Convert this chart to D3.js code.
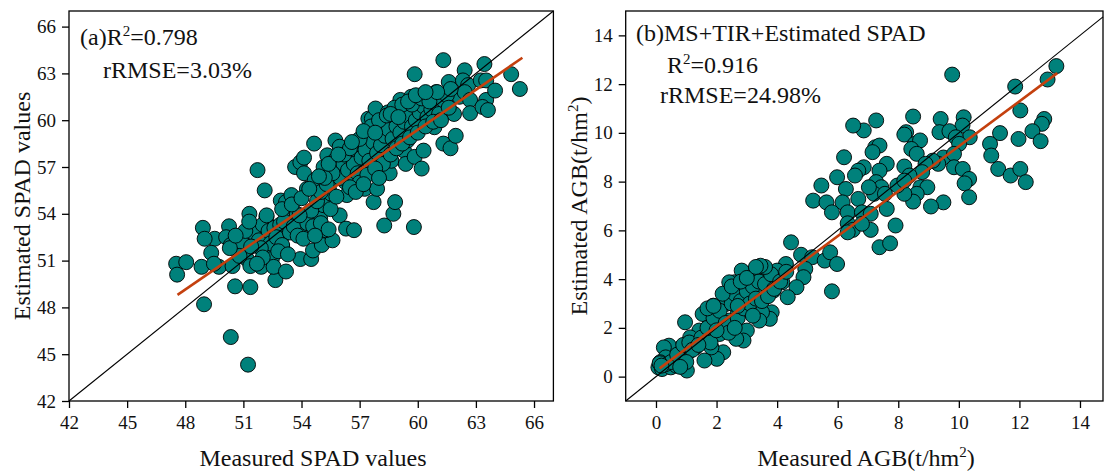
<!DOCTYPE html>
<html>
<head>
<meta charset="utf-8">
<script src="https://d3js.org/d3.v7.min.js"></script>
<style>
	body { margin: 0; background: #fff; }
	svg text { font-family: "Liberation Serif", "Times New Roman", serif; fill: #111; }
</style>
</head>
<body>
<svg id="chart" width="1105" height="474"></svg>
<script>
// (a) measured vs estimated SPAD
var spadPoints = [
	[51.24,44.33],[50.35,46.1],[48.97,48.2],[47.53,50.8],[47.58,50.1],[48.05,50.9],[48.84,50.6],[48.91,53.1],
	[49.52,52.4],[49.0,52.4],[49.34,51.5],[49.74,50.6],[49.48,50.8],[50.26,53.2],[50.11,52.5],[50.35,52.0],
	[50.44,50.65],[50.57,49.35],[50.72,51.65],[51.36,49.3],[51.31,54.0],[51.15,52.5],[51.18,51.1],[51.36,50.65],
	[51.92,50.6],[51.73,56.8],[52.1,55.5],[52.19,53.8],[52.29,52.7],[52.19,51.45],[52.47,51.1],[52.65,49.75],
	[52.56,50.6],[53.0,51.9],[53.2,50.3],[52.93,54.85],[53.2,54.75],[53.48,55.2],[53.11,52.7],[53.48,53.6],
	[53.76,54.0],[54.04,53.15],[53.94,51.1],[54.5,51.1],[53.67,57.0],[53.94,57.3],[54.13,57.6],[54.13,56.6],
	[54.28,55.6],[54.65,58.5],[54.68,56.15],[54.68,54.0],[54.96,53.7],[55.05,52.7],[54.59,51.65],[55.05,52.0],
	[55.14,54.55],[55.14,57.0],[55.33,57.75],[55.42,55.8],[55.51,55.3],[55.6,52.3],[55.24,52.95],[55.75,58.7],
	[55.7,57.4],[55.88,56.6],[55.97,53.9],[56.16,57.2],[56.25,56.05],[56.3,53.05],[56.34,55.2],[55.97,58.3],
	[56.62,58.5],[56.71,52.95],[56.8,56.35],[56.89,57.6],[57.26,55.6],[57.26,59.25],[57.45,60.1],[57.63,60.1],
	[57.82,60.75],[57.72,54.75],[57.9,55.6],[57.45,57.0],[57.82,56.8],[58.0,58.7],[58.27,53.25],[58.55,56.6],
	[58.74,54.0],[58.83,54.75],[58.64,57.4],[58.46,60.5],[58.92,60.1],[59.1,61.3],[59.29,58.05],[59.38,57.2],
	[59.29,60.65],[59.47,58.7],[59.66,61.5],[59.8,53.15],[59.84,62.95],[59.84,57.65],[59.93,60.65],[60.12,59.55],
	[60.2,56.9],[60.3,58.05],[60.49,61.05],[60.76,60.0],[60.86,59.55],[60.95,61.8],[61.13,61.05],[61.32,63.85],
	[61.32,58.5],[61.6,62.45],[61.69,58.2],[61.78,61.7],[61.87,60.4],[61.96,59.0],[62.15,61.5],[62.42,63.2],
	[62.33,62.55],[62.6,62.25],[62.42,61.8],[62.7,61.3],[62.7,60.45],[63.25,62.55],[63.44,63.6],[63.53,61.3],
	[63.34,60.85],[63.62,60.65],[63.53,62.55],[63.99,61.9],[64.82,62.95],[65.27,62.0],
	[50.9,52.2],[51.5,52.8],[51.8,52.3],[52.0,53.3],[52.3,52.9],[52.6,53.1],[52.9,53.3],[52.4,52.1],
	[51.9,51.8],[51.4,51.9],[50.8,51.3],[51.1,52.9],[52.7,52.5],[53.1,53.5],[53.4,52.8],[53.6,53.2],
	[53.8,52.6],[54.1,52.4],[54.3,53.4],[54.5,54.2],[54.8,54.8],[55.0,55.4],[55.3,55.9],[53.9,53.9],
	[54.6,53.2],[55.5,54.3],[55.8,55.1],[56.0,56.3],[56.4,56.8],[56.7,57.2],[56.9,56.6],[57.1,57.6],
	[57.3,58.1],[57.5,57.4],[57.7,58.6],[57.9,57.9],[58.1,58.4],[58.3,59.0],[58.5,59.4],[58.7,58.8],
	[58.9,59.6],[59.1,59.2],[59.3,59.9],[59.5,60.3],[59.7,59.6],[59.9,60.0],[60.1,60.5],[60.3,60.9],
	[60.5,60.2],[60.7,60.7],[60.9,61.1],[61.1,60.4],[61.3,61.3],[61.5,61.6],[61.7,62.0],[58.2,57.2],
	[58.6,57.8],[58.9,58.2],[59.2,58.5],[59.6,58.9],[60.0,59.2],[60.4,59.6],[60.8,59.9],[61.2,60.0],
	[61.6,60.8],[57.0,56.0],[57.4,56.5],[57.8,56.9],[58.0,56.3],[56.5,55.7],[56.8,55.4],[57.2,55.9],
	[55.6,56.6],[55.2,56.3],[56.2,57.8],[56.5,58.2],[57.0,58.8],[57.6,59.6],[58.0,60.0],[58.4,60.3],
	[58.8,60.8],[59.2,61.0],[59.7,61.0],[60.2,61.4],[60.6,61.2],[61.0,61.8],[55.0,53.4],[55.4,53.0],
	[54.7,52.6],[53.0,52.0],[52.8,51.6],[53.3,51.4],[52.0,51.2],[51.7,50.8],[50.3,51.8],[50.6,52.6],
	[51.3,53.5],[52.2,53.9],[53.0,54.3],[53.5,54.6],[54.0,55.0],[54.4,55.6],[54.9,56.4],[55.4,57.2],
	[55.9,57.8],[56.6,58.6],[57.2,59.3],[57.8,59.2],[58.6,60.4],[59.0,60.2],[59.5,61.2],[59.9,61.6],[60.4,61.8]
];
var spadFit = [[47.6,48.8],[65.4,64.0]];
var spadTicks = [42,45,48,51,54,57,60,63,66];

// (b) measured vs estimated AGB (t/hm2)
var agbPoints = [
	[9.78,12.39],[13.22,12.74],[12.93,12.19],[11.86,11.9],[12.03,10.92],[12.82,10.57],[12.74,10.37],[12.43,10.07],
	[12.7,9.66],[11.36,9.99],[11.97,9.75],[11.03,9.55],[11.07,9.07],[11.3,8.52],[11.71,8.25],[12.03,8.52],
	[12.21,7.98],[10.16,10.64],[10.12,10.3],[10.36,9.82],[9.4,10.57],[9.36,10.03],[9.69,10.07],[9.9,9.82],
	[10.01,9.55],[8.49,10.67],[8.26,10.03],[8.2,9.93],[8.55,9.55],[8.72,9.69],[8.43,9.34],[8.61,9.14],
	[7.27,10.51],[6.86,10.1],[6.51,10.3],[7.24,9.41],[7.38,9.48],[7.15,9.21],[6.21,9.0],[9.49,8.99],
	[9.84,9.14],[9.32,8.73],[9.14,8.86],[9.84,8.59],[10.13,8.52],[10.34,8.11],[10.19,7.93],[10.34,7.36],
	[9.49,7.15],[9.08,6.98],[8.9,8.73],[8.79,8.39],[8.2,8.62],[8.37,8.25],[8.73,7.77],[8.96,7.77],
	[8.61,7.5],[8.49,7.18],[8.2,7.5],[7.97,7.84],[8.2,8.04],[7.62,8.73],[7.38,8.45],[7.27,7.98],
	[7.44,7.77],[7.2,7.5],[7.56,7.5],[7.03,7.77],[6.86,8.59],[6.68,8.45],[6.57,8.25],[5.98,8.18],
	[5.46,7.84],[6.27,7.7],[6.68,7.29],[6.16,7.15],[5.19,7.22],[5.63,7.15],[5.81,6.74],[6.33,6.74],
	[6.8,6.74],[7.09,6.68],[7.62,6.88],[6.33,6.29],[6.5,6.02],[6.33,5.92],[7.09,6.02],[7.91,6.2],
	[7.38,5.31],[7.73,5.47],[6.8,6.27],[4.46,5.51],[4.79,5.0],[5.16,4.9],[5.57,4.76],[5.75,5.1],
	[5.98,4.62],[5.81,3.5],[4.93,4.42],[4.87,4.08],[4.64,3.67],[4.29,4.62],[4.35,3.26],[4.17,3.87],
	[4.0,4.35],[3.76,4.08],[3.64,4.15],[3.41,4.49],[3.24,4.01],[3.12,4.21],[2.89,4.08],[2.83,4.35],
	[2.59,3.87],[2.42,3.87],[2.92,3.46],[3.29,3.39],[3.53,3.53],[3.88,3.53],[3.82,2.64],[3.76,2.37],
	[3.5,2.64],[3.41,2.3],[3.06,2.71],[3.0,1.89],[2.89,1.48],[2.65,1.55],[2.71,2.64],[2.42,2.3],
	[2.3,2.98],[2.07,2.5],[1.89,2.91],[1.78,2.3],[1.89,2.02],[2.1,1.75],[2.22,1.0],[2.01,0.73],
	[1.83,1.2],[1.66,1.61],[1.54,2.57],[1.43,1.89],[1.6,0.66],[1.31,1.2],[0.96,2.23],[1.13,1.61],
	[1.07,1.0],[1.02,0.25],[0.84,1.2],[0.9,0.79],[0.72,0.52],[0.55,0.93],[0.43,1.27],[0.26,1.2],
	[0.32,0.79],[0.14,0.59],[0.08,0.38],[0.2,0.31],[0.49,0.38],[0.67,0.45],
	[0.3,0.5],[0.5,0.6],[0.7,0.9],[0.9,1.3],[1.1,1.4],[1.2,1.1],[1.0,0.6],[0.8,0.4],
	[1.5,1.6],[1.7,2.0],[1.9,2.4],[2.1,2.7],[2.3,2.2],[2.5,3.0],[2.6,3.4],[2.8,3.1],
	[3.0,3.5],[3.2,3.7],[3.4,3.9],[3.6,3.8],[3.8,4.2],[2.7,2.4],[2.9,2.8],[3.1,3.0],
	[3.3,3.2],[3.5,3.1],[3.7,3.3],[2.4,1.8],[2.6,2.0],[1.8,1.4],[2.0,1.9],[1.4,1.3],
	[3.2,2.5],[3.9,3.6],[4.1,3.9],[4.3,4.3],[2.2,3.4],[2.5,3.7],[2.8,3.9],[3.6,4.5],
	[3.45,4.55],[1.7,2.8],[1.9,2.9],[2.7,2.9],[3.0,4.05],[3.3,4.5],[0.12,0.55],[0.18,0.45]
];
var agbFit = [[0.12,0.34],[13.25,12.45]];
var agbTicks = [0,2,4,6,8,10,12,14];

var svg = d3.select("#chart");
var top_ = 11, bottom = 401;

function panel(cfg) {
	var x = d3.scaleLinear().domain(cfg.xDomain).range([cfg.left, cfg.right]);
	var y = d3.scaleLinear().domain(cfg.yDomain).range([bottom, top_]);
	var g = svg.append("g");

	g.append("g").selectAll("circle")
		.data(cfg.points).enter().append("circle")
		.attr("cx", function(d) { return x(d[0]); })
		.attr("cy", function(d) { return y(d[1]); })
		.attr("r", 7.5)
		.attr("fill", "#00817b")
		.attr("stroke", "#000")
		.attr("stroke-width", 0.9);

	// 1:1 line, from corner to where it leaves the frame
	var lo = Math.max(cfg.xDomain[0], cfg.yDomain[0]);
	var hi = Math.min(cfg.xDomain[1], cfg.yDomain[1]);
	g.append("line")
		.attr("x1", x(lo)).attr("y1", y(lo))
		.attr("x2", x(hi)).attr("y2", y(hi))
		.attr("stroke", "#000").attr("stroke-width", 1.1);

	g.append("line")
		.attr("x1", x(cfg.fit[0][0])).attr("y1", y(cfg.fit[0][1]))
		.attr("x2", x(cfg.fit[1][0])).attr("y2", y(cfg.fit[1][1]))
		.attr("stroke", "#c4400e").attr("stroke-width", 2.6);

	g.append("rect")
		.attr("x", cfg.left).attr("y", top_)
		.attr("width", cfg.right - cfg.left).attr("height", bottom - top_)
		.attr("fill", "none").attr("stroke", "#000").attr("stroke-width", 1.3);

	var xa = g.append("g").attr("transform", "translate(0," + bottom + ")")
		.call(d3.axisBottom(x).tickValues(cfg.ticks).tickSize(7).tickSizeOuter(0).tickPadding(8));
	var ya = g.append("g").attr("transform", "translate(" + cfg.left + ",0)")
		.call(d3.axisLeft(y).tickValues(cfg.ticks).tickSize(7).tickSizeOuter(0).tickPadding(6));
	[xa, ya].forEach(function(a) {
		a.select(".domain").remove();
		a.selectAll("line").attr("stroke", "#000").attr("stroke-width", 1.3);
		a.selectAll("text").attr("font-family", "Liberation Serif, serif").attr("font-size", 19).attr("fill", "#111");
	});
	return {x: x, y: y};
}

// text with one raised, smaller part: [before, superscript, after]
function sup(t, size, parts) {
	var lift = Math.round(size * 0.38);
	t.attr("font-size", size);
	t.append("tspan").text(parts[0]);
	t.append("tspan").attr("font-size", Math.round(size * 0.62)).attr("dy", -lift).text(parts[1]);
	t.append("tspan").attr("dy", lift).text(parts[2]);
}

panel({xDomain: [42, 67], yDomain: [42, 67], left: 69, right: 553.4,
	points: spadPoints, fit: spadFit, ticks: spadTicks});
panel({xDomain: [-1, 14.76], yDomain: [-1, 15], left: 625.7, right: 1103,
	points: agbPoints, fit: agbFit, ticks: agbTicks});

// annotations
sup(svg.append("text").attr("x", 80).attr("y", 45), 24, ["(a)R", "2", "=0.798"]);
svg.append("text").attr("x", 103).attr("y", 78).attr("font-size", 24).text("rRMSE=3.03%");
svg.append("text").attr("x", 636).attr("y", 41).attr("font-size", 24).text("(b)MS+TIR+Estimated SPAD");
sup(svg.append("text").attr("x", 667).attr("y", 73), 24, ["R", "2", "=0.916"]);
svg.append("text").attr("x", 660).attr("y", 103).attr("font-size", 24).text("rRMSE=24.98%");

// axis titles
svg.append("text").attr("x", 313).attr("y", 466).attr("text-anchor", "middle").attr("font-size", 24)
	.text("Measured SPAD values");
svg.append("text").attr("transform", "translate(30,206) rotate(-90)").attr("text-anchor", "middle")
	.attr("font-size", 24).text("Estimated SPAD values");
sup(svg.append("text").attr("x", 866).attr("y", 466).attr("text-anchor", "middle"), 24,
	["Measured AGB(t/hm", "2", ")"]);
sup(svg.append("text").attr("transform", "translate(587,206) rotate(-90)").attr("text-anchor", "middle"), 24,
	["Estimated AGB(t/hm", "2", ")"]);
</script>
</body>
</html>
